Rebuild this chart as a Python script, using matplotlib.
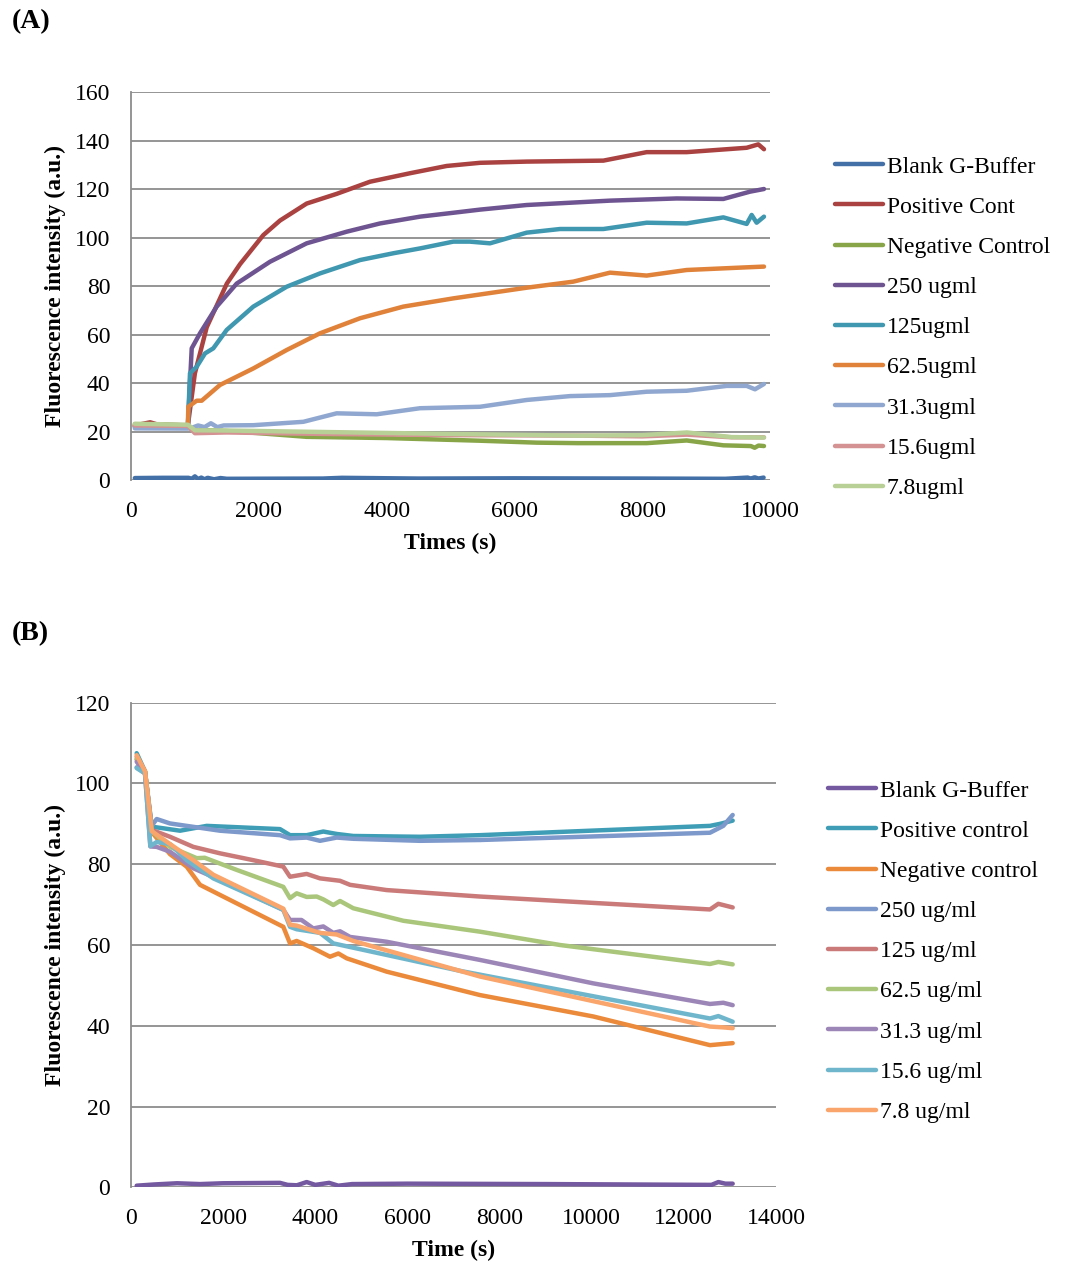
import matplotlib
matplotlib.use("Agg")
import matplotlib.pyplot as plt

plt.rcParams['font.family'] = ['Liberation Serif', 'DejaVu Serif']

# ---------------- Panel A data ----------------
a_blank_t = [60, 500, 900, 950, 1000, 1050, 1100, 1150, 1200, 1300, 1400, 1500, 3000, 3300, 4500, 6000, 8000, 9300, 9650, 9700, 9760, 9820, 9900]
a_blank_v = [0.8, 0.9, 0.9, 0.5, 1.5, 0.4, 1.0, 0.3, 0.9, 0.3, 0.8, 0.5, 0.6, 0.9, 0.6, 0.7, 0.6, 0.5, 1.0, 0.6, 1.1, 0.6, 1.0]

a_pos_t = [60, 300, 400, 890, 1000, 1185, 1500, 1706, 2071, 2332, 2749, 3219, 3740, 4366, 4940, 5462, 6192, 7392, 8070, 8696, 9635, 9817, 9906]
a_pos_v = [22.5, 23.8, 23.0, 22.5, 44, 63, 81, 89, 101, 107, 114, 118, 123, 126.5, 129.5, 130.8, 131.3, 131.7, 135.2, 135.2, 137, 138.4, 136.4]

a_neg_t = [60, 890, 950, 1500, 2000, 2749, 4000, 5462, 6349, 7000, 8070, 8696, 9270, 9700, 9760, 9820, 9906]
a_neg_v = [23, 22.5, 20.8, 20.2, 19.3, 17.8, 17.3, 16.2, 15.4, 15.2, 15.2, 16.3, 14.3, 14, 13.3, 14.2, 14]

a_250_t = [60, 890, 950, 1080, 1341, 1654, 2175, 2749, 3376, 3897, 4523, 5044, 5462, 6192, 7496, 8540, 9270, 9687, 9906]
a_250_v = [22, 22.3, 54.3, 60.5, 71.5, 81, 90, 97.6, 102.4, 105.8, 108.6, 110.2, 111.5, 113.4, 115.2, 116.1, 115.9, 118.9, 120]

a_125_t = [60, 890, 923, 1028, 1158, 1288, 1498, 1914, 2436, 2958, 3584, 4105, 4523, 5044, 5300, 5618, 6192, 6714, 7392, 8070, 8696, 9270, 9635, 9713, 9791, 9906]
a_125_v = [22, 22.3, 44, 46.7, 52.2, 54.3, 61.9, 71.5, 79.7, 85.2, 90.7, 93.5, 95.5, 98.3, 98.3, 97.6, 102, 103.5, 103.5, 106.1, 105.8, 108.3, 105.6, 109.3, 106.1, 108.6]

a_62_t = [60, 890, 897, 1028, 1106, 1393, 1914, 2436, 2958, 3584, 4261, 5044, 6192, 6922, 7496, 8070, 8696, 9635, 9906]
a_62_v = [22.5, 22.5, 30.2, 32.7, 32.7, 39.2, 46, 53.6, 60.5, 66.7, 71.5, 74.9, 79.3, 81.8, 85.5, 84.3, 86.6, 87.7, 88]

a_31_t = [60, 890, 950, 1050, 1150, 1250, 1350, 1450, 1914, 2697, 3219, 3845, 4523, 5462, 6192, 6870, 7496, 8070, 8696, 9322, 9635, 9765, 9906]
a_31_v = [21.3, 21.2, 21.5, 22.5, 21.8, 23.4, 21.8, 22.5, 22.6, 24, 27.5, 27.1, 29.6, 30.2, 33, 34.6, 35, 36.4, 36.8, 38.8, 38.8, 37.4, 39.6]

a_15_t = [60, 890, 1000, 1500, 3000, 5000, 7000, 8000, 8700, 9400, 9906]
a_15_v = [22.5, 22.3, 19.3, 19.6, 19.0, 18.5, 18.3, 18.0, 18.7, 17.6, 17.6]

a_7_t = [60, 890, 1000, 1500, 3000, 5000, 7000, 8000, 8700, 9400, 9906]
a_7_v = [23.2, 22.8, 20.5, 20.4, 19.8, 19.0, 18.3, 18.5, 19.6, 17.7, 17.5]

a_labels = ["Blank G-Buffer", "Positive Cont", "Negative Control", "250 ugml", "125ugml",
            "62.5ugml", "31.3ugml", "15.6ugml", "7.8ugml"]
a_colors = ["#4470A8", "#A94240", "#88A548", "#6E5490", "#3F97B0", "#E0823A", "#90A8CF", "#D49392", "#B8CF96"]
a_series = [(a_blank_t, a_blank_v), (a_pos_t, a_pos_v), (a_neg_t, a_neg_v), (a_250_t, a_250_v),
            (a_125_t, a_125_v), (a_62_t, a_62_v), (a_31_t, a_31_v), (a_15_t, a_15_v), (a_7_t, a_7_v)]
a_yticks = [0, 20, 40, 60, 80, 100, 120, 140, 160]
a_xticks = [0, 2000, 4000, 6000, 8000, 10000]

# ---------------- Panel B data ----------------
b_blank_t = [123, 500, 1000, 1500, 2000, 3234, 3400, 3600, 3813, 4000, 4300, 4500, 4800, 6000, 9000, 12600, 12750, 12900, 13060]
b_blank_v = [0.4, 0.7, 1.0, 0.8, 1.0, 1.1, 0.6, 0.5, 1.3, 0.6, 1.1, 0.4, 0.8, 0.9, 0.8, 0.6, 1.3, 0.9, 0.9]

b_pos_t = [123, 304, 449, 702, 1064, 1643, 3234, 3451, 3813, 4174, 4465, 4825, 6273, 7575, 12567, 12784, 13060]
b_pos_v = [107.5, 103, 89.3, 88.9, 88.3, 89.5, 88.7, 87.2, 87.2, 88.1, 87.5, 87, 86.8, 87.2, 89.5, 90, 90.8]

b_neg_t = [123, 304, 449, 846, 1209, 1498, 1932, 3306, 3451, 3596, 3957, 4319, 4501, 4682, 5550, 7575, 10034, 12567, 12856, 13060]
b_neg_v = [106, 103, 88, 82.5, 79.4, 74.9, 72.4, 64.5, 60.4, 61, 59.2, 57.1, 57.9, 56.7, 53.4, 47.6, 42.3, 35.2, 35.5, 35.7]

b_250_t = [123, 304, 449, 557, 846, 1209, 1932, 3234, 3451, 3813, 4102, 4465, 4825, 6273, 7575, 12567, 12856, 13060]
b_250_v = [104, 102.5, 89.5, 91.2, 90.1, 89.5, 88.3, 87.2, 86.4, 86.6, 85.8, 86.6, 86.3, 85.8, 86, 87.8, 89.5, 92.2]

b_125_t = [123, 304, 449, 846, 1353, 1932, 2655, 3306, 3451, 3813, 4102, 4537, 4754, 5550, 7575, 12567, 12748, 13060]
b_125_v = [106.6, 103, 88.5, 86.8, 84.3, 82.7, 81, 79.4, 76.9, 77.6, 76.5, 75.9, 74.9, 73.6, 72, 68.8, 70.2, 69.3]

b_62_t = [123, 304, 449, 846, 1426, 1600, 2294, 3306, 3451, 3596, 3813, 4030, 4174, 4391, 4537, 4825, 5911, 7575, 9312, 12567, 12748, 13060]
b_62_v = [106, 103, 88.2, 84.3, 81.5, 81.6, 78.6, 74.4, 71.6, 72.8, 71.9, 72, 71.3, 69.9, 70.9, 69.1, 66, 63.3, 60, 55.3, 55.8, 55.2]

b_31_t = [123, 304, 420, 557, 846, 1353, 1932, 3306, 3451, 3700, 3957, 4174, 4391, 4537, 4754, 5550, 7575, 10034, 12567, 12856, 13060]
b_31_v = [105.4, 102.5, 84.4, 84.3, 83.1, 79, 76.1, 68.7, 66.2, 66.2, 64.1, 64.6, 63, 63.4, 62, 60.8, 56.3, 50.5, 45.4, 45.7, 45.1]

b_15_t = [123, 304, 420, 557, 846, 1209, 1787, 3306, 3451, 3596, 4102, 4391, 7141, 12567, 12748, 13060]
b_15_v = [103.8, 102.5, 84.5, 85.5, 85, 81, 76.5, 68.7, 64.5, 63.9, 63, 60.4, 53.6, 41.8, 42.4, 41]

b_7_t = [123, 304, 449, 846, 1353, 1787, 3306, 3451, 3596, 4102, 4465, 4825, 7575, 12567, 12856, 13060]
b_7_v = [107, 103, 88.2, 85, 81, 77.4, 69, 65, 64.8, 63, 62.6, 61, 52.2, 39.8, 39.6, 39.4]

b_labels = ["Blank G-Buffer", "Positive control", "Negative control", "250 ug/ml", "125 ug/ml",
            "62.5 ug/ml", "31.3 ug/ml", "15.6 ug/ml", "7.8 ug/ml"]
b_colors = ["#7458A0", "#3F9EB6", "#EB8A3A", "#7D98CA", "#CA7A79", "#A9C67A", "#9C86B8", "#6FB6CC", "#F9A56B"]
b_series = [(b_blank_t, b_blank_v), (b_pos_t, b_pos_v), (b_neg_t, b_neg_v), (b_250_t, b_250_v),
            (b_125_t, b_125_v), (b_62_t, b_62_v), (b_31_t, b_31_v), (b_15_t, b_15_v), (b_7_t, b_7_v)]
b_yticks = [0, 20, 40, 60, 80, 100, 120]
b_xticks = [0, 2000, 4000, 6000, 8000, 10000, 12000, 14000]

W, H = 1067, 1262
fig = plt.figure(figsize=(W / 100, H / 100), dpi=100)

def style_axes(ax, yticks, xticks, xlabel, ylabel):
    ax.set_ylim(yticks[0], yticks[-1])
    ax.set_xlim(xticks[0], xticks[-1])
    ax.set_yticks(yticks)
    ax.set_xticks(xticks)
    ax.set_yticklabels([str(v) for v in yticks], fontsize=17)
    ax.set_xticklabels([str(v) for v in xticks], fontsize=17)
    ax.tick_params(axis='y', length=0, pad=15)
    ax.tick_params(axis='x', length=0, pad=15)
    ax.grid(axis='y', color='#8C8C8C', linewidth=1.3)
    ax.set_axisbelow(True)
    for s in ['top', 'right', 'bottom']:
        ax.spines[s].set_visible(False)
    ax.spines['left'].set_color('#8C8C8C')
    ax.spines['left'].set_linewidth(1.3)
    ax.set_xlabel(xlabel, fontsize=17, fontweight='bold', labelpad=8)
    ax.set_ylabel(ylabel, fontsize=17, fontweight='bold', labelpad=6)

def draw(ax, series, labels, colors):
    for (t, v), lab, c in zip(series, labels, colors):
        ax.plot(t, v, color=c, lw=3.2, label=lab, solid_joinstyle='round', solid_capstyle='round')

leg_kw = dict(frameon=False, fontsize=17, handlelength=2.03, handletextpad=0.17,
              labelspacing=0.79, borderpad=0, borderaxespad=0)

# Panel A
axA = fig.add_axes([131 / W, 1 - 480 / H, 639 / W, 388 / H])
draw(axA, a_series, a_labels, a_colors)
style_axes(axA, a_yticks, a_xticks, "Times (s)", "Fluorescence intensity (a.u.)")
axA.legend(loc='upper left', bbox_to_anchor=(835 / W, 1 - 156 / H), bbox_transform=fig.transFigure, **leg_kw)

# Panel B
axB = fig.add_axes([131 / W, 1 - 1187.3 / H, 645 / W, 484.6 / H])
draw(axB, b_series, b_labels, b_colors)
style_axes(axB, b_yticks, b_xticks, "Time (s)", "Fluorescence intensity (a.u.)")
axB.legend(loc='upper left', bbox_to_anchor=(828 / W, 1 - 780 / H), bbox_transform=fig.transFigure, **leg_kw)

fig.text(12 / W, 1 - 22 / H, "(A)", fontsize=20, fontweight='bold', va='center', ha='left')
fig.text(12 / W, 1 - 634 / H, "(B)", fontsize=20, fontweight='bold', va='center', ha='left')

fig.savefig("out.png", dpi=100, facecolor='white')
